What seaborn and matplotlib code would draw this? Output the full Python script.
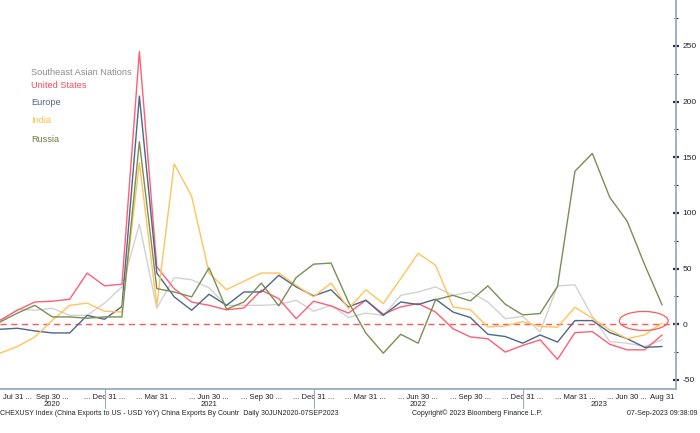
import matplotlib
matplotlib.use("Agg")
import matplotlib.pyplot as plt
import matplotlib.transforms as mtransforms
from matplotlib.patches import Ellipse
import numpy as np
import pandas as pd
import seaborn as sns

# --------------------------------------------------------------------------- #
# Data: China exports YoY (%) by destination, monthly Jun-2020 .. Aug-2023
# --------------------------------------------------------------------------- #
months = pd.period_range("2020-06", "2023-08", freq="M")

sea = [2, 13.5, 12.6, 14.4, 8, 8, 19, 33.6, 90, 14.4, 42, 40, 32.7, 17, 17, 17,
       17.7, 21.6, 11.7, 17, 6, 10, 8, 26, 29, 33.6, 26, 29, 20, 5, 7, -6.6,
       34.5, 35.4, 7, -15.6, -17, -20, -14]
us = [3.6, 12.6, 20, 20.7, 22.5, 46, 34.5, 36, 245, 51.6, 32, 20, 17, 13, 14.7,
      30.6, 23, 5, 20.7, 16.5, 10, 21.6, 9, 15.6, 18.6, 11, -4, -11.4, -13, -25,
      -19, -14, -31.5, -7.5, -6.6, -18, -23, -23, -9.6]
europe = [-4.5, -3.6, -6, -7.8, -7.8, 8, 4.5, 16, 205, 46, 24.6, 12.6, 27, 17,
          29, 29, 44, 33.6, 25.5, 31, 15.6, 21.6, 8, 20, 17.7, 22.5, 11, 6, -9,
          -11, -17, -9.6, -16, 3.3, 3.3, -7.5, -13, -20.7, -20]
india = [-26, -20, -11.4, 3.6, 17, 19, 11.7, 11, 145, 17, 144, 115, 46, 31, 38.7,
         46, 46, 35, 24.6, 37, 14, 31, 18.6, 41, 63.7, 53, 15.6, 13, -2.4, -1.5,
         2.4, -2, -2.7, 15.3, 5.4, -5, -13, -9.6, 1]
russia = [2, 10, 17, 6.6, 6.6, 5.4, 6.6, 6.6, 164, 32, 29, 24.6, 50.7, 13.5, 20,
          37, 16.5, 42, 54, 55, 20, -8, -26, -9, -17, 22, 26, 21, 34.5, 18, 8.4,
          9.6, 34, 137.5, 153.5, 114, 92.5, 53.5, 17.4]

series_names = ["Southeast Asian Nations", "United States", "Europe", "India", "Russia"]
series_values = [sea, us, europe, india, russia]

label_months = ["2020-07", "2020-09", "2020-12", "2021-03", "2021-06", "2021-09",
                "2021-12", "2022-03", "2022-06", "2022-09", "2022-12", "2023-03",
                "2023-06", "2023-08"]
label_texts = ["Jul 31 ...", "Sep 30 ...", "... Dec 31 ...", "... Mar 31 ...",
               "... Jun 30 ...", "... Sep 30 ...", "... Dec 31 ...", "... Mar 31 ...",
               "... Jun 30 ...", "... Sep 30 ...", "... Dec 31 ...", "... Mar 31 ...",
               "... Jun 30 ...", "Aug 31"]
years = [2020, 2021, 2022, 2023]
y_ticks = [-50, 0, 50, 100, 150, 200, 250]

# --------------------------------------------------------------------------- #
# Styling
# --------------------------------------------------------------------------- #
line_colors = {
    "Southeast Asian Nations": "#d2d2d2",
    "United States": "#ff5f74",
    "Europe": "#4f6685",
    "India": "#ffc35c",
    "Russia": "#7a8f55",
}
text_colors = {
    "Southeast Asian Nations": "#8c8c8c",
    "United States": "#ff4a5e",
    "Europe": "#4f6685",
    "India": "#ffbd4a",
    "Russia": "#6b7f48",
}
axis_color = "#9aa9bb"
tick_color = "#1f3350"
small_font = 5.5
footer_font = 5.0

sns.set_style("white")
plt.rcParams["font.family"] = ["Liberation Sans", "DejaVu Sans"]
plt.rcParams["axes.unicode_minus"] = False

month_idx = {str(p): i for i, p in enumerate(months)}

df = pd.concat(
    [pd.DataFrame({"month": np.arange(len(months)), "value": vals, "country": name})
     for name, vals in zip(series_names, series_values)],
    ignore_index=True,
)

fig = plt.figure(figsize=(7, 4.33), dpi=100)
ax = fig.add_axes([0.0, 0.101, 0.9657, 0.899])

sns.lineplot(data=df, x="month", y="value", hue="country", hue_order=series_names,
             palette=line_colors, linewidth=1.0, legend=False, ax=ax)

ax.axhline(0, color="#ff5a5a", lw=1.0, ls=(0, (4.5, 3.2)), zorder=1)

# highlight circle around the latest readings
last = len(months) - 1
ax.add_patch(Ellipse((last - 1.05, 3), width=2.8, height=17, fill=False,
                     edgecolor="#ff5a5a", lw=0.9, zorder=5))

ax.set_xlim(0.19, 38.8)
ax.set_ylim(-58.4, 291.3)
ax.set_xlabel("")
ax.set_ylabel("")

# right-hand value axis
ax.yaxis.tick_right()
ax.set_yticks(y_ticks)
ax.set_yticks(np.arange(-50, 276, 25), minor=True)
ax.tick_params(axis="y", which="major", direction="inout", length=4, width=1.6,
               color=tick_color, labelsize=6.0, labelcolor="#222222", pad=2.5)
ax.tick_params(axis="y", which="minor", direction="inout", length=3, width=0.8,
               color=tick_color)

# bottom time axis
ax.set_xticks([month_idx[m] for m in label_months])
ax.set_xticklabels(label_texts)
ax.set_xticks(np.arange(len(months)), minor=True)
ax.tick_params(axis="x", which="major", length=2.5, width=0.6, color=axis_color,
               labelsize=small_font, labelcolor="#222222", pad=1.0)
ax.tick_params(axis="x", which="minor", length=2.5, width=0.6, color=axis_color)

for side in ["top", "left"]:
    ax.spines[side].set_visible(False)
for side in ["right", "bottom"]:
    ax.spines[side].set_color(axis_color)
    ax.spines[side].set_linewidth(1.3)

# year separators and year labels under the month labels
trans = mtransforms.blended_transform_factory(ax.transData, ax.transAxes)
x_lo, x_hi = ax.get_xlim()
for yr in years:
    start = max(month_idx.get(f"{yr - 1}-12", x_lo), x_lo)
    end = min(month_idx.get(f"{yr}-12", x_hi), x_hi)
    ax.text((start + end) / 2, -0.038, str(yr), transform=trans, ha="center",
            va="center", fontsize=small_font, color="#222222")
    if f"{yr}-12" in month_idx and month_idx[f"{yr}-12"] < x_hi - 1:
        xs = month_idx[f"{yr}-12"]
        ax.plot([xs, xs], [0, -0.047], transform=trans, color=axis_color,
                lw=0.8, clip_on=False)

# coloured legend labels, top-left
for k, name in enumerate(series_names):
    ypos = [0.815, 0.780, 0.737, 0.690, 0.642][k]
    ax.text(0.046, ypos, name, transform=ax.transAxes, fontsize=6.6,
            color=text_colors[name], va="center", ha="left")

# footer
fig.text(0.0, 0.046, "CHEXUSY Index (China Exports to US - USD YoY) China Exports By Countr"
         "  Daily 30JUN2020-07SEP2023", fontsize=footer_font, color="#222222", va="center")
fig.text(0.588, 0.046, "Copyright\u00a9 2023 Bloomberg Finance L.P.", fontsize=footer_font,
         color="#222222", va="center")
fig.text(0.997, 0.046, "07-Sep-2023 09:38:09", fontsize=footer_font, color="#222222",
         va="center", ha="right")

fig.savefig("out.png", dpi=100, facecolor="white")
plt.close(fig)
